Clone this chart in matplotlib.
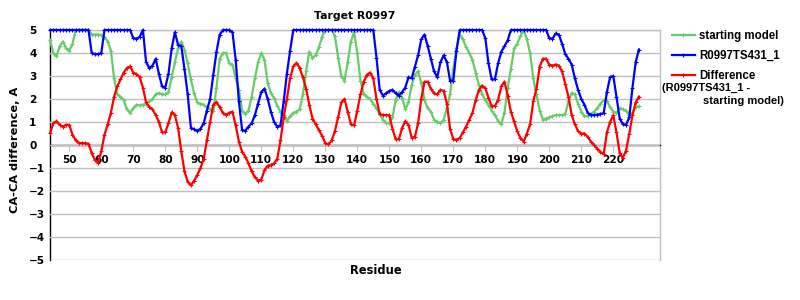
import numpy as np
import matplotlib
matplotlib.use("Agg")
import matplotlib.pyplot as plt
from matplotlib.lines import Line2D

# residue numbers on the x axis
residues = list(range(44, 229))

# CA-CA difference of the starting model, A
starting_model = [
    4.55, 4.0, 3.85, 4.3, 4.5, 4.2, 4.1, 4.4, 5.0, 5.0,          # 44-53
    5.0, 5.0, 5.0, 4.8, 4.8, 4.8, 4.78, 4.7, 4.5, 4.1,           # 54-63
    2.9, 2.2, 2.1, 1.95, 1.55, 1.4, 1.6, 1.75, 1.72, 1.75,       # 64-73
    1.78, 1.9, 2.0, 2.2, 2.25, 2.2, 2.2, 2.3, 2.95, 3.6,         # 74-83
    4.2, 4.5, 4.15, 3.55, 2.85, 2.25, 1.85, 1.8, 1.75, 1.65,     # 84-93
    1.55, 1.46, 2.5, 3.75, 4.0, 4.0, 3.55, 3.5, 2.9, 2.4,        # 94-103
    1.5, 1.35, 1.5, 2.1, 2.9, 3.6, 4.0, 3.7, 2.7, 2.25,          # 104-113
    2.05, 1.7, 1.45, 1.3, 1.05, 1.25, 1.4, 1.45, 1.55, 2.2,      # 114-123
    3.2, 4.05, 3.8, 3.9, 4.25, 4.7, 5.0, 5.0, 5.0, 4.75,         # 124-133
    3.8, 3.0, 2.8, 3.6, 4.5, 4.9, 4.0, 2.8, 2.2, 2.1,            # 134-143
    2.0, 1.8, 1.6, 1.35, 1.1, 0.95, 0.95, 1.2, 1.95, 2.3,        # 144-153
    2.05, 1.55, 1.85, 2.6, 3.05, 3.2, 2.7, 1.95, 1.6, 1.45,      # 154-163
    1.1, 1.0, 0.95, 1.1, 1.6, 2.2, 3.3, 4.2, 4.8, 4.6,           # 164-173
    4.25, 4.0, 3.7, 3.15, 2.6, 2.2, 1.97, 1.75, 1.5, 1.3,        # 174-183
    1.05, 0.9, 1.4, 2.5, 3.3, 4.2, 4.4, 4.75, 5.0, 4.6,          # 184-193
    4.0, 2.9, 2.2, 1.5, 1.1, 1.15, 1.2, 1.25, 1.3, 1.3,          # 194-203
    1.3, 1.35, 1.9, 2.25, 2.2, 1.8, 1.45, 1.25, 1.25, 1.35,      # 204-213
    1.45, 1.6, 1.8, 1.95, 1.9, 1.65, 1.45, 1.4, 1.6, 1.55,       # 214-223
    1.5, 1.3, 1.4, 1.65, 1.68,                                   # 224-228
]

# CA-CA difference of model R0997TS431_1, A
model_431 = [
    5.0, 5.0, 5.0, 5.0, 5.0, 5.0, 5.0, 5.0, 5.0, 5.0,            # 44-53
    5.0, 5.0, 5.0, 4.0, 3.95, 3.95, 4.0, 5.0, 5.0, 5.0,          # 54-63
    5.0, 5.0, 5.0, 5.0, 5.0, 5.0, 4.65, 4.62, 4.7, 5.0,          # 64-73
    3.6, 3.35, 3.45, 3.75, 3.1, 2.55, 2.5, 3.1, 4.2, 4.9,        # 74-83
    4.35, 4.3, 3.3, 2.2, 0.75, 0.68, 0.62, 0.7, 0.95, 1.5,       # 84-93
    2.0, 3.05, 4.05, 4.8, 5.0, 5.0, 5.0, 4.9, 3.7, 1.9,          # 94-103
    0.65, 0.62, 0.8, 0.95, 1.3, 1.8, 2.3, 2.45, 2.0, 1.45,       # 104-113
    1.0, 0.8, 0.85, 1.9, 3.1, 4.1, 5.0, 5.0, 5.0, 5.0,           # 114-123
    5.0, 5.0, 5.0, 5.0, 5.0, 5.0, 5.0, 5.0, 5.0, 5.0,            # 124-133
    5.0, 5.0, 5.0, 5.0, 5.0, 5.0, 5.0, 5.0, 5.0, 5.0,            # 134-143
    5.0, 5.0, 3.8, 2.4, 2.15, 2.25, 2.35, 2.4, 2.25, 2.15,       # 144-153
    2.3, 2.5, 2.94, 2.9, 3.4, 3.9, 4.6, 4.8, 4.3, 3.75,          # 154-163
    3.2, 2.95, 3.6, 3.9, 3.6, 2.8, 2.8, 4.1, 5.0, 5.0,           # 164-173
    5.0, 5.0, 5.0, 5.0, 5.0, 5.0, 4.65, 3.55, 2.85, 2.85,        # 174-183
    3.55, 4.05, 4.3, 4.55, 5.0, 5.0, 5.0, 5.0, 5.0, 5.0,         # 184-193
    5.0, 5.0, 5.0, 5.0, 5.0, 5.0, 4.65, 4.62, 4.85, 4.8,         # 194-203
    4.4, 3.95, 3.75, 3.5, 2.9, 2.4, 2.0, 1.75, 1.4, 1.3,         # 204-213
    1.3, 1.32, 1.35, 1.38, 2.3, 2.95, 3.0, 2.1, 1.15, 0.9,       # 214-223
    0.88, 1.2, 2.5, 3.6, 4.15,                                   # 224-228
]

# difference (R0997TS431_1 - starting model), A
difference = [
    0.52, 0.95, 1.03, 0.88, 0.8, 0.88, 0.87, 0.45, 0.2, 0.08,    # 44-53
    0.08, 0.08, 0.05, -0.35, -0.65, -0.78, -0.28, 0.45, 0.9, 1.4,  # 54-63
    2.1, 2.55, 2.85, 3.15, 3.35, 3.42, 3.15, 3.08, 2.95, 2.5,    # 64-73
    1.85, 1.65, 1.55, 1.3, 1.0, 0.55, 0.55, 0.95, 1.42, 1.3,     # 74-83
    0.74, -0.28, -1.14, -1.6, -1.75, -1.55, -1.3, -1.0, -0.6, 0.2,  # 84-93
    1.0, 1.75, 1.87, 1.65, 1.4, 1.32, 1.4, 1.45, 0.85, 0.15,     # 94-103
    -0.3, -0.5, -0.8, -1.15, -1.4, -1.55, -1.5, -1.1, -0.9, -0.87,  # 104-113
    -0.8, -0.6, 0.2, 1.2, 2.0, 2.9, 3.42, 3.57, 3.35, 2.95,      # 114-123
    2.45, 1.75, 1.15, 0.9, 0.65, 0.4, 0.08, 0.03, 0.2, 0.6,      # 124-133
    1.2, 1.85, 2.0, 1.45, 0.9, 0.85, 1.5, 2.2, 2.75, 3.05,       # 134-143
    3.15, 2.9, 2.0, 1.35, 1.3, 1.3, 1.3, 0.7, 0.25, 0.25,        # 144-153
    0.74, 1.03, 0.88, 0.32, 0.35, 0.95, 2.0, 2.75, 2.75, 2.45,   # 154-163
    2.25, 2.2, 2.4, 2.35, 1.8, 0.7, 0.25, 0.23, 0.3, 0.55,       # 164-173
    0.8, 1.1, 1.4, 1.95, 2.4, 2.58, 2.48, 2.05, 1.68, 1.7,       # 174-183
    1.95, 2.55, 2.75, 2.15, 1.45, 1.03, 0.59, 0.3, 0.15, 0.5,    # 184-193
    0.9, 1.9, 2.45, 3.4, 3.75, 3.75, 3.5, 3.45, 3.5, 3.45,       # 194-203
    3.2, 2.65, 2.1, 1.3, 0.9, 0.6, 0.5, 0.5, 0.35, 0.15,         # 204-213
    0.0, -0.16, -0.3, -0.4, 0.55, 1.0, 1.3, 0.55, -0.35, -0.55,  # 214-223
    -0.25, 0.5, 1.3, 1.85, 2.1,                                  # 224-228
]

x_ticks = list(range(50, 230, 10))
y_ticks = list(range(-5, 6))

GREEN = "#66cc66"
BLUE = "#0000ff"
RED = "#ff0000"
GRID = "#c0c0c0"

plt.rcParams["font.family"] = "DejaVu Sans"
plt.rcParams["font.weight"] = "bold"

fig = plt.figure(figsize=(8, 3), dpi=100)
ax = fig.add_axes([50 / 800, 40 / 300, 610 / 800, 230 / 300])

style = dict(linewidth=1.6, marker="+", markersize=3, markeredgewidth=0.8,
             clip_on=False)
ax.plot(residues, starting_model, color=GREEN, label="starting model", **style)
ax.plot(residues, model_431, color=BLUE, label="R0997TS431_1", **style)
ax.plot(residues, difference, color=RED, label="Difference", **style)

ax.set_xlim(43.97, 234.6)
ax.set_ylim(-5, 5)
ax.set_yticks(y_ticks)
ax.set_xticks(x_ticks)
ax.yaxis.grid(True, color=GRID, linewidth=1)
ax.set_axisbelow(True)

# x axis crosses at zero
ax.spines["bottom"].set_position(("data", 0))
ax.spines["bottom"].set_color("black")
ax.spines["left"].set_color("black")
ax.spines["right"].set_color(GRID)
ax.spines["top"].set_color(GRID)
for s in ax.spines.values():
    s.set_linewidth(1)
    s.set_zorder(0.5)

ax.tick_params(axis="x", direction="out", length=4, color=GRID, pad=3,
               labelsize=7.6)
ax.tick_params(axis="y", length=0, pad=15, labelsize=7.6)
for lab in ax.get_yticklabels():
    lab.set_horizontalalignment("left")
for lab in ax.get_xticklabels() + ax.get_yticklabels():
    lab.set_fontweight("bold")

ax.set_title("Target R0997", fontsize=7.8, fontweight="bold", pad=8)
fig.text(15 / 800, 1 - 150 / 300, "CA-CA difference, A", rotation=90,
         ha="center", va="center", fontsize=8.2, fontweight="bold")
fig.text(376 / 800, 1 - 270 / 300, "Residue", ha="center", va="center",
         fontsize=8.3, fontweight="bold")

# legend outside on the right
handles = [Line2D([], [], color=c, linewidth=1.6, marker="+", markersize=3,
                  markeredgewidth=0.8) for c in (GREEN, BLUE, RED)]
fig.legend(handles, ["starting model", "R0997TS431_1", "Difference"],
           loc="upper left", bbox_to_anchor=(666 / 800, 1 - 24 / 300),
           frameon=False, handlelength=2.0, handletextpad=0.4,
           labelspacing=0.72, borderpad=0,
           prop={"family": "Liberation Sans", "weight": "bold", "size": 8.3})
fig.text(662 / 800, 1 - 88 / 300, "(R0997TS431_1 -", ha="left", va="center",
         fontsize=8.0, fontweight="bold", family="Liberation Sans")
fig.text(703 / 800, 1 - 101 / 300, "starting model)", ha="left", va="center",
         fontsize=8.0, fontweight="bold", family="Liberation Sans")

fig.savefig("out.png", dpi=100)
